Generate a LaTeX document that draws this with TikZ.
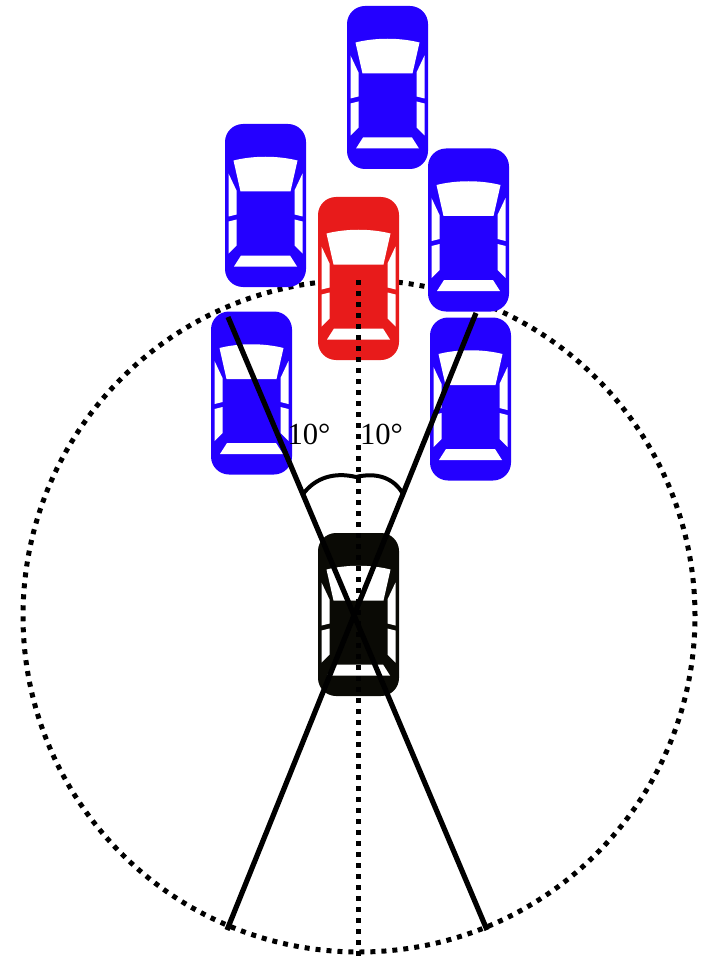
\documentclass[tikz,border=0pt]{standalone}
\usepackage{fontspec}
\setmainfont{Liberation Serif}
\definecolor{carblue}{RGB}{36,0,255}
\definecolor{carred}{RGB}{232,27,27}
\definecolor{carblack}{RGB}{10,10,5}
\tikzset{
  % top view of a car, 81 x 163 units, centred on its origin
  pics/car/.style={code={
    \fill[#1, rounded corners=13.5pt] (-40.5,-81.5) rectangle (40.5,81.5);
    % windshield
    \fill[white] (-32,-45) .. controls (-12,-50) and (12,-50) .. (32,-45)
      -- (25,-14) -- (-25,-14) -- cycle;
    % rear window
    \fill[white] (-24.5,50) -- (24.5,50) -- (31.5,61) -- (-31.5,61) -- cycle;
    % side windows
    \foreach \s in {-1,1}{
      \fill[white] (\s*37,-32) -- (\s*29,-15) -- (\s*29,9) -- (\s*37,11) -- cycle;
      \fill[white] (\s*37,16) -- (\s*29,14) -- (\s*29,40) -- (\s*37,48) -- cycle;
    }
  }},
  dotline/.style={line width=3.75pt, dash pattern=on 3.75pt off 4.5pt},
  beam/.style={line width=3.9pt},
  anglearc/.style={line width=3pt},
  anglelabel/.style={font=\fontsize{23}{23}\selectfont, inner sep=0pt}
}
\begin{document}
\begin{tikzpicture}[x=0.75pt,y=-0.75pt]
  \useasboundingbox (0,0) rectangle (705,959);

  % range circle around the ego vehicle
  \coordinate (rc) at (359,616);
  \draw[dotline] (rc) circle[radius=252pt];

  % surrounding vehicles
  \pic (front)  at (387.5,87.5)  {car=carblue};
  \pic (ulcar)  at (265.5,205.5) {car=carblue};
  \pic (urcar)  at (468.5,230)   {car=carblue};
  \pic (llcar)  at (251.5,393)   {car=carblue};
  \pic (lrcar)  at (470.5,399)   {car=carblue};
  \pic (target) at (358.5,278.5) {car=carred};
  \pic (ego)    at (358.5,614.5) {car=carblack};

  % sensor beams
  \coordinate (lbtop) at (228,317);
  \coordinate (lbbot) at (487,930);
  \coordinate (rbtop) at (476,313);
  \coordinate (rbbot) at (227,930);
  \draw[beam] (lbtop) -- (lbbot);
  \draw[beam] (rbtop) -- (rbbot);

  % centre axis
  \coordinate (axtop) at (358,280);
  \coordinate (axbot) at (358,957);
  \draw[dotline] (axtop) -- (axbot);

  % angle arcs
  \coordinate (arcl) at (303,494);
  \coordinate (arcm) at (356,477);
  \coordinate (arcr) at (403,494);
  \draw[anglearc] (arcl) .. controls (316,477) and (335,472) .. (arcm)
                        .. controls (377,472) and (394,478) .. (arcr);

  % angle labels
  \node[anglelabel] (angl) at (309,434) {10°};
  \node[anglelabel] (angr) at (381.5,434) {10°};
\end{tikzpicture}
\end{document}
